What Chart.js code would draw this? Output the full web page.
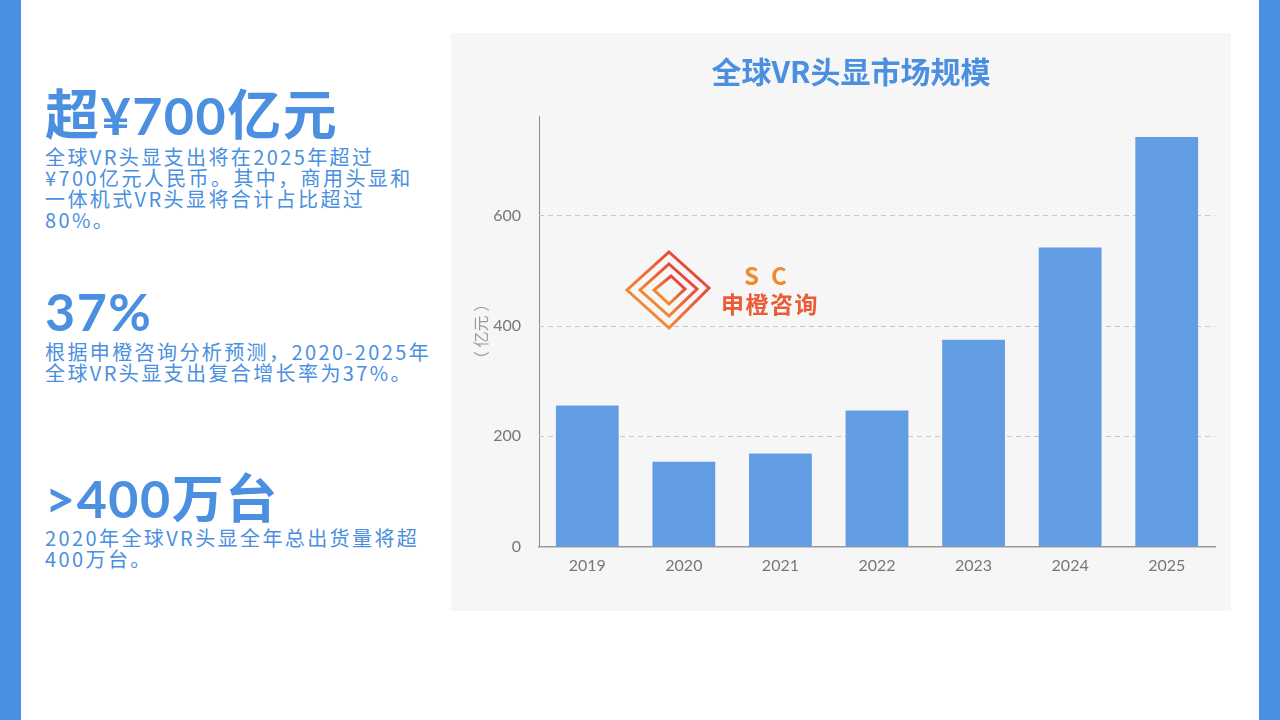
<!DOCTYPE html>
<html>
<head>
<meta charset="utf-8">
<script src="https://cdn.jsdelivr.net/npm/chart.js@4.4.0/dist/chart.umd.min.js"></script>
<style>
  body { margin: 0; width: 1280px; height: 720px; background: #fff; position: relative; overflow: hidden;
         font-family: "Noto Sans CJK SC", "Noto Sans", sans-serif; color: #4a8fe0; }
  .side { position: absolute; top: 0; width: 21px; height: 720px; background: #4a90e2; }
  .head { position: absolute; left: 45px; font-family: Lato, "Noto Sans CJK SC", sans-serif; font-weight: 700;
          font-size: 52px; line-height: 60px; letter-spacing: 1.5px; white-space: nowrap; }
  .head .cjk { font-family: "Noto Sans CJK SC", sans-serif; font-size: 54px; }
  .body { position: absolute; left: 45px; font-size: 20px; line-height: 21px; letter-spacing: 2.4px; white-space: nowrap; }
  #panel { position: absolute; left: 451px; top: 33px; width: 780px; height: 578px; background: #f6f6f6; }
  #logo { position: absolute; left: 170px; top: 215px; width: 210px; height: 90px; }
  .sc { position: absolute; font-weight: 700; color: #f08a2a; white-space: nowrap; }
</style>
</head>
<body>
<div class="side" style="left:0"></div>
<div class="side" style="left:1259px"></div>

<div class="head" style="top:82px"><span class="cjk">超</span>¥700<span class="cjk">亿元</span></div>
<div class="body" style="top:146px">全球VR头显支出将在2025年超过<br>¥700亿元人民币。其中，商用头显和<br>一体机式VR头显将合计占比超过<br>80%。</div>

<div class="head" style="top:281px">37%</div>
<div class="body" style="top:341px">根据申橙咨询分析预测，2020-2025年<br>全球VR头显支出复合增长率为37%。</div>

<div class="head" style="top:466px">&gt;400<span class="cjk" style="font-size:52px">万台</span></div>
<div class="body" style="top:527px">2020年全球VR头显全年总出货量将超<br>400万台。</div>

<div id="panel">
  <canvas id="vrChart" width="780" height="578"></canvas>
  <div id="logo">
    <svg width="100" height="90" viewBox="0 0 100 90" style="position:absolute;left:0;top:0">
      <defs>
        <linearGradient id="lg" x1="0" y1="1" x2="1" y2="0">
          <stop offset="0" stop-color="#f9a532"/>
          <stop offset="1" stop-color="#e42a3a"/>
        </linearGradient>
      </defs>
      <g fill="none" stroke="url(#lg)" stroke-width="3" stroke-linejoin="miter">
        <polygon points="48,4 88,40 48,80 6,42"/>
        <polygon points="48,16 76,41 48,68 19,42"/>
        <polygon points="50,28 64,41 48,56 33,42"/>
      </g>
    </svg>
    <div class="sc" style="left:123px;top:9px;font-size:24px;letter-spacing:12px">SC</div>
    <div class="sc" style="left:100px;top:38px;font-size:23px;color:#ec5a36;letter-spacing:1.5px">申橙咨询</div>
  </div>
</div>

<script>
const years = ['2019', '2020', '2021', '2022', '2023', '2024', '2025'];
const marketSize = [256, 154, 169, 247, 375, 542, 742];
const yTicks = [0, 200, 400, 600];

document.addEventListener('DOMContentLoaded', () => {
  var ctx = document.getElementById('vrChart');
  var data = {
    labels: years,
    datasets: [{
      data: marketSize,
      backgroundColor: '#629de3',
      borderWidth: 0,
      categoryPercentage: 1,
      barPercentage: 0.65
    }]
  };

  if (ctx) {
    new Chart(ctx, {
      type: 'bar',
      data: data,
      options: {
        responsive: false,
        animation: false,
        layout: { padding: { top: 0, right: 0, bottom: 27, left: 20 } },
        plugins: {
          legend: { display: false },
          tooltip: { enabled: false },
          title: {
            display: true,
            text: '全球VR头显市场规模',
            color: '#4a8fe0',
            font: { family: '"Noto Sans CJK SC"', size: 30, weight: 'bold' },
            padding: { top: 21, bottom: 26 }
          }
        },
        scales: {
          x: {
            grid: { display: false, drawTicks: false },
            border: { color: '#9a9a9a', width: 1.5 },
            ticks: { color: '#777', padding: 9, font: { family: 'Lato', size: 16 } }
          },
          y: {
            min: 0,
            max: 780,
            afterBuildTicks: (scale) => { scale.ticks = yTicks.map(v => ({ value: v })); },
            afterFit: (scale) => { scale.width = 68; },
            grid: { display: false, drawTicks: false },
            border: { display: true, color: '#8a8a8a', width: 1 },
            ticks: { color: '#777', padding: 18, font: { family: 'Lato', size: 16 } },
            title: {
              display: true,
              text: '（ 亿元 ）',
              color: '#9a9a9a',
              font: { family: '"Noto Sans CJK SC"', size: 16 },
              padding: { top: 0, bottom: 0 }
            }
          },
          // empty right-hand spacer so the plot ends where the reference does
          yRight: {
            position: 'right',
            display: true,
            afterFit: (scale) => { scale.width = 16; },
            grid: { display: false, drawTicks: false },
            border: { display: false },
            ticks: { display: false }
          }
        }
      },
      plugins: [{
        id: 'dashGrid',
        beforeDatasetsDraw(chart) {
          // dashed horizontal guide lines
          const c = chart.ctx, y = chart.scales.y, a = chart.chartArea;
          c.save();
          c.strokeStyle = '#c8c8c8';
          c.setLineDash([5, 4]);
          c.lineWidth = 1;
          yTicks.forEach(v => {
            if (v === 0) return;
            const py = Math.round(y.getPixelForValue(v)) + 0.5;
            c.beginPath(); c.moveTo(a.left, py); c.lineTo(a.right, py); c.stroke();
          });
          c.restore();
        }
      }]
    });
  }
});
</script>
</body>
</html>
